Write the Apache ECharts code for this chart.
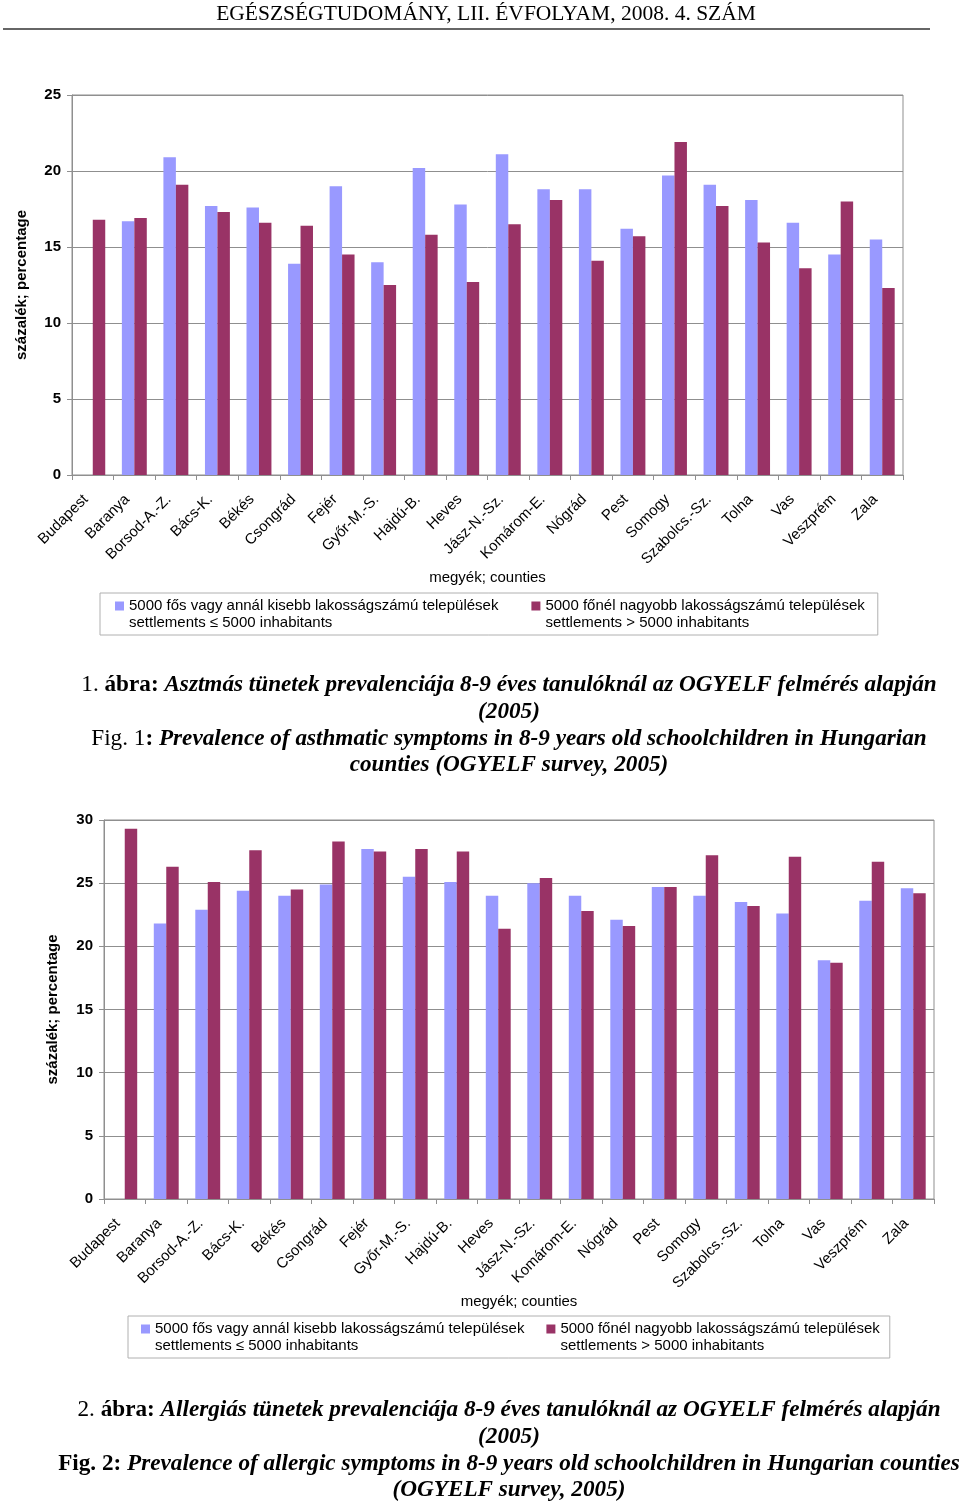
<!DOCTYPE html>
<html>
<head>
<meta charset="utf-8">
<script src="https://cdn.jsdelivr.net/npm/echarts@6/dist/echarts.min.js"></script>
<style>
html,body{margin:0;padding:0;background:#fff;}
#c{width:960px;height:1503px;}
</style>
</head>
<body>
<div id="c"></div>
<script>
// ---- data ----
var counties = ['Budapest','Baranya','Borsod-A.-Z.','Bács-K.','Békés','Csongrád','Fejér','Győr-M.-S.','Hajdú-B.','Heves','Jász-N.-Sz.','Komárom-E.','Nógrád','Pest','Somogy','Szabolcs.-Sz.','Tolna','Vas','Veszprém','Zala'];
// Fig. 1 – asthmatic symptoms
var asthmaSmall = [null,16.7,20.9,17.7,17.6,13.9,19.0,14.0,20.2,17.8,21.1,18.8,18.8,16.2,19.7,19.1,18.1,16.6,14.5,15.5];
var asthmaLarge = [16.8,16.9,19.1,17.3,16.6,16.4,14.5,12.5,15.8,12.7,16.5,18.1,14.1,15.7,21.9,17.7,15.3,13.6,18.0,12.3];
// Fig. 2 – allergic symptoms
var allergySmall = [null,21.8,22.9,24.4,24.0,24.9,27.7,25.5,25.1,24.0,25.0,24.0,22.1,24.7,24.0,23.5,22.6,18.9,23.6,24.6];
var allergyLarge = [29.3,26.3,25.1,27.6,24.5,28.3,27.5,27.7,27.5,21.4,25.4,22.8,21.6,24.7,27.2,23.2,27.1,18.7,26.7,24.2];
var yTicks1 = {min:0, max:25, interval:5};
var yTicks2 = {min:0, max:30, interval:5};
var nameSmall = '5000 fős vagy annál kisebb lakosságszámú települések';
var nameLarge = '5000 főnél nagyobb lakosságszámú települések';
var nameSmall2 = 'settlements ≤ 5000 inhabitants';
var nameLarge2 = 'settlements > 5000 inhabitants';
var yName = 'százalék; percentage';
var xName = 'megyék; counties';
var header = 'EGÉSZSÉGTUDOMÁNY, LII. ÉVFOLYAM, 2008. 4. SZÁM';

var SANS = '"Liberation Sans", Arial, sans-serif';
var SERIF = '"Liberation Serif", "Times New Roman", serif';
var colSmall = '#9999FF', colLarge = '#993366';
var gridCol = '#8f8f8f';

function xAxisCfg(gi, nameGap){
  return {
    type:'category', gridIndex:gi, data:counties,
    name:xName, nameLocation:'middle', nameGap:nameGap,
    nameTextStyle:{fontFamily:SANS, fontSize:15, color:'#000'},
    axisLine:{lineStyle:{color:gridCol}},
    axisTick:{show:true, length:5, lineStyle:{color:gridCol}},
    axisLabel:{interval:0, rotate:45, fontFamily:SANS, fontSize:15, color:'#000', margin:15, padding:[0,10,0,0]}
  };
}
function yAxisCfg(gi, t, gap){
  return {
    type:'value', gridIndex:gi, min:t.min, max:t.max, interval:t.interval,
    name:yName, nameLocation:'middle', nameRotate:90, nameGap:gap,
    nameTextStyle:{fontFamily:SANS, fontSize:15, fontWeight:'bold', color:'#000'},
    axisLine:{show:true, lineStyle:{color:gridCol}},
    axisTick:{show:true, length:5, lineStyle:{color:gridCol}},
    axisLabel:{fontFamily:SANS, fontSize:15, fontWeight:'bold', color:'#000', margin:11},
    splitLine:{show:true, lineStyle:{color:gridCol, width:1}}
  };
}
function legendCfg(left, top, gap, padL, padR, suffix){
  return {
    left:left, top:top, orient:'horizontal',
    data:[nameSmall+suffix, nameLarge+suffix],
    icon:'path://M0,0h9v9h-9zM0,25', itemWidth:9, itemHeight:25, itemGap:gap,
    padding:[4,padR,4,padL], borderColor:'#b0b0b0', borderWidth:1,
    textStyle:{fontFamily:SANS, fontSize:15, color:'#000', lineHeight:17},
    formatter:function(n){
      var k = n.trim();
      return k + '\n' + (k===nameSmall ? nameSmall2 : nameLarge2);
    }
  };
}
function barSeries(name, data, color, gi){
  return {
    type:'bar', name:name, data:data, xAxisIndex:gi, yAxisIndex:gi,
    barGap:'0%', barCategoryGap:'40%', itemStyle:{color:color}, silent:true
  };
}
var FS = 23.2, LH = 26.7;
var capRich = {
  r:{fontFamily:SERIF, fontSize:FS, fontWeight:'normal', color:'#000', lineHeight:LH},
  b:{fontFamily:SERIF, fontSize:FS, fontWeight:'bold', color:'#000', lineHeight:LH},
  bi:{fontFamily:SERIF, fontSize:FS, fontWeight:'bold', fontStyle:'italic', color:'#000', lineHeight:LH}
};

var chart = echarts.init(document.getElementById('c'), null, {renderer:'canvas'});
chart.setOption({
  backgroundColor:'#fff',
  animation:false,
  title:[
    {
      left:504, top:667, textAlign:'center',
      text:'{r|1. }{b|ábra:}{bi| Asztmás tünetek prevalenciája 8-9 éves tanulóknál az OGYELF felmérés alapján}\n{bi|(2005)}\n{r|Fig. 1}{b|:}{bi| Prevalence of asthmatic symptoms in 8-9 years old schoolchildren in Hungarian}\n{bi|counties (OGYELF survey, 2005)}',
      textStyle:{lineHeight:LH, fontWeight:'normal', rich:capRich}
    },
    {
      left:504, top:1392, textAlign:'center',
      text:'{r|2. }{b|ábra:}{bi| Allergiás tünetek prevalenciája 8-9 éves tanulóknál az OGYELF felmérés alapján}\n{bi|(2005)}\n{b|Fig. 2:}{bi| Prevalence of allergic symptoms in 8-9 years old schoolchildren in Hungarian counties}\n{bi|(OGYELF survey, 2005)}',
      textStyle:{lineHeight:LH, fontWeight:'normal', rich:capRich}
    }
  ],
  graphic:[
    {type:'text', x:486, y:3, style:{text:header, fontFamily:SERIF, fontSize:21.5, fill:'#000', textAlign:'center'}},
    {type:'line', shape:{x1:3, y1:29, x2:930, y2:29}, style:{stroke:'#666', lineWidth:2}}
  ],
  legend:[legendCfg(100, 593, 33, 15, 13, ''), legendCfg(128, 1316, 22, 13, 10, ' ')],
  grid:[
    {left:72, right:57, top:95, height:380, show:true, borderColor:gridCol, borderWidth:1, containLabel:false},
    {left:104, right:26, top:820, height:379, show:true, borderColor:gridCol, borderWidth:1, containLabel:false}
  ],
  xAxis:[xAxisCfg(0, 95), xAxisCfg(1, 94)],
  yAxis:[yAxisCfg(0, yTicks1, 43), yAxisCfg(1, yTicks2, 44)],
  series:[
    barSeries(nameSmall, asthmaSmall, colSmall, 0),
    barSeries(nameLarge, asthmaLarge, colLarge, 0),
    barSeries(nameSmall+' ', allergySmall, colSmall, 1),
    barSeries(nameLarge+' ', allergyLarge, colLarge, 1)
  ]
});
</script>
</body>
</html>
